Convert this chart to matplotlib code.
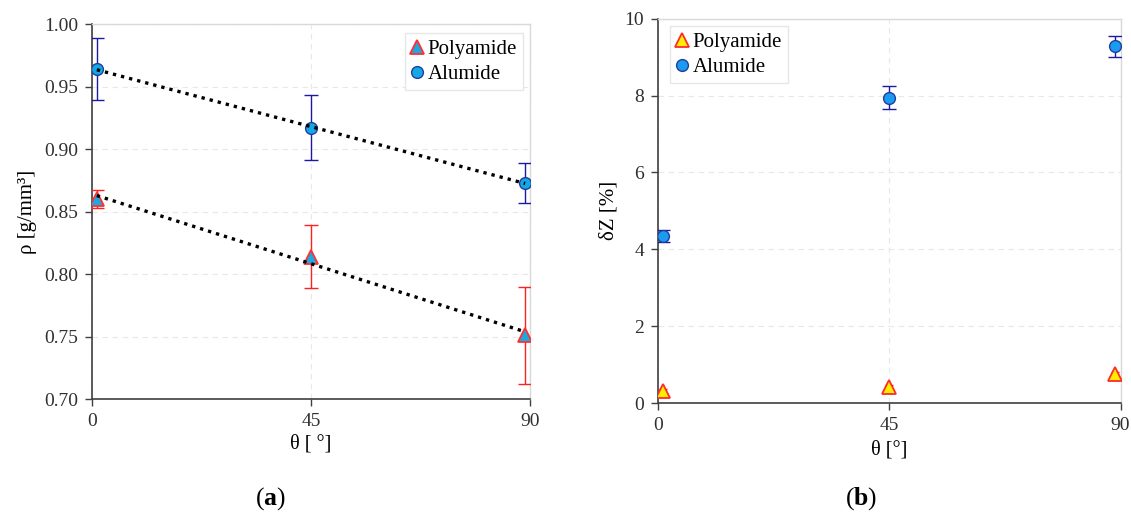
import numpy as np
import matplotlib.pyplot as plt

plt.rcParams['font.family'] = ['Liberation Serif', 'DejaVu Serif']
plt.rcParams['mathtext.fontset'] = 'custom'
plt.rcParams['mathtext.rm'] = 'Liberation Serif'
plt.rcParams['mathtext.bf'] = 'Liberation Serif:bold'

# Build orientation angle (deg)
theta = [1, 45, 89]

# (a) density
rho_poly = [0.860, 0.814, 0.751]
rho_poly_err = [0.007, 0.025, 0.039]
rho_alu = [0.964, 0.917, 0.873]
rho_alu_err = [0.025, 0.026, 0.016]

# (b) dimensional deviation
dz_poly = [0.32, 0.42, 0.75]
dz_poly_err = [0.05, 0.05, 0.05]
dz_alu = [4.35, 7.95, 9.28]
dz_alu_err = [0.15, 0.31, 0.28]

fig = plt.figure(figsize=(11.31, 5.13), dpi=100)
ax1 = fig.add_axes([0.0813, 0.222, 0.3873, 0.731])
ax2 = fig.add_axes([0.5818, 0.2144, 0.409, 0.749])


def style_axes(ax):
    for side in ['left', 'bottom']:
        ax.spines[side].set_color('#404040')
        ax.spines[side].set_linewidth(1.2)
    for side in ['top', 'right']:
        ax.spines[side].set_color('#d9d9d9')
        ax.spines[side].set_linewidth(1.0)
    ax.grid(True, color='#e8e8e8', linestyle=(0, (5, 4)), linewidth=0.8)
    ax.set_axisbelow(True)
    ax.tick_params(direction='out', length=5, width=1, color='#404040',
                   labelcolor='#303030', labelsize=14, pad=5)
    ax.set_xlim(0, 90)
    ax.set_xticks([0, 45, 90])


# ---- (a) ----
style_axes(ax1)
xs = np.array([theta[0], theta[-1]])
for vals in [rho_alu, rho_poly]:
    # linear trend line, drawn over the markers
    k, b = np.polyfit(theta, vals, 1)
    ax1.plot(xs, k * xs + b, color='black', linestyle=(0, (1, 1.5)),
             linewidth=2.4, zorder=5)
ax1.errorbar(theta, rho_poly, yerr=rho_poly_err, fmt='none', ecolor='#ff2020',
             elinewidth=1.0, capsize=5, capthick=1.0, zorder=3)
ax1.errorbar(theta, rho_alu, yerr=rho_alu_err, fmt='none', ecolor='#1a1aa0',
             elinewidth=1.0, capsize=5, capthick=1.0, zorder=3)
ax1.plot(theta, rho_poly, linestyle='none', marker='^', markersize=9.5,
         markerfacecolor='#1ea7e0', markeredgecolor='#ff3030',
         markeredgewidth=1.3, label='Polyamide', zorder=4)
ax1.plot(theta, rho_alu, linestyle='none', marker='o', markersize=8.5,
         markerfacecolor='#15a6e6', markeredgecolor='#1f3f9a',
         markeredgewidth=1.0, label='Alumide', zorder=4)
ax1.set_ylim(0.70, 1.00)
ax1.set_yticks(np.arange(0.70, 1.001, 0.05))
ax1.set_yticklabels(['%.2f' % v for v in np.arange(0.70, 1.001, 0.05)])
ax1.set_xlabel('θ [ °]', fontsize=14.5, labelpad=3)
ax1.set_ylabel('ρ [g/mm³]', fontsize=15, labelpad=5)
ax1.legend(loc='upper right', fontsize=15, handlelength=0.6,
           handletextpad=0.2, borderpad=0.3, labelspacing=0.25,
           fancybox=False, edgecolor='#e6e6e6', framealpha=1,
           bbox_to_anchor=(0.985, 0.975), borderaxespad=0)

# ---- (b) ----
style_axes(ax2)
ax2.errorbar(theta, dz_poly, yerr=dz_poly_err, fmt='none', ecolor='#ff2020',
             elinewidth=1.0, capsize=3, capthick=1.0, zorder=3)
ax2.errorbar(theta, dz_alu, yerr=dz_alu_err, fmt='none', ecolor='#1a1aa0',
             elinewidth=1.0, capsize=5, capthick=1.0, zorder=3)
ax2.plot(theta, dz_poly, linestyle='none', marker='^', markersize=9.5,
         markerfacecolor='#ffee00', markeredgecolor='#ff2a2a',
         markeredgewidth=1.3, label='Polyamide', zorder=4)
ax2.plot(theta, dz_alu, linestyle='none', marker='o', markersize=8.5,
         markerfacecolor='#1a9af0', markeredgecolor='#1f3f9a',
         markeredgewidth=1.0, label='Alumide', zorder=4)
ax2.set_ylim(0, 10)
ax2.set_yticks([0, 2, 4, 6, 8, 10])
ax2.set_xlabel('θ [°]', fontsize=14.5, labelpad=5)
ax2.set_ylabel('δZ [%]', fontsize=15, labelpad=4)
ax2.legend(loc='upper left', fontsize=15, handlelength=0.6,
           handletextpad=0.2, borderpad=0.3, labelspacing=0.25,
           fancybox=False, edgecolor='#e6e6e6', framealpha=1,
           bbox_to_anchor=(0.025, 0.98), borderaxespad=0)

fig.text(0.239, 0.016, r'($\mathbf{a}$)', fontsize=18.5, ha='center',
         va='baseline')
fig.text(0.761, 0.016, r'($\mathbf{b}$)', fontsize=18.5, ha='center',
         va='baseline')

fig.savefig('out.png', dpi=100)
